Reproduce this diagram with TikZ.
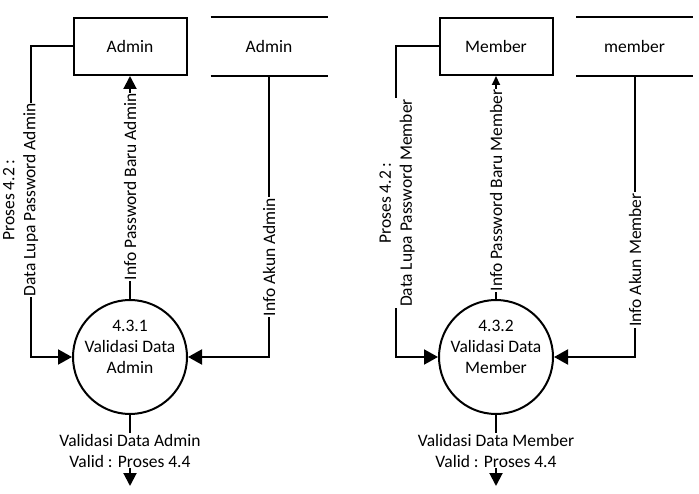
\documentclass[tikz,border=0pt]{standalone}
\usepackage{fontspec}
\setmainfont{Carlito}
\usetikzlibrary{arrows.meta}
\begin{document}
\begin{tikzpicture}[x=1pt,y=-1pt, line width=2pt, font=\fontsize{17.5}{21}\selectfont,
  flow/.style={-{Triangle[length=14pt,width=15pt]}},
  flowsm/.style={-{Triangle[length=13pt,width=13pt]}},
  flowxs/.style={-{Triangle[length=9pt,width=8pt]}},
  ent/.style={draw, minimum width=113pt, minimum height=57pt, inner sep=0pt},
  store/.style={minimum width=115pt, minimum height=57pt, inner sep=0pt},
  proc/.style={draw, circle, minimum size=114pt, inner sep=0pt},
  lbl/.style={fill=white, inner sep=1pt, align=center},
  vlbl/.style={lbl, rotate=90}]
\useasboundingbox (0,0) rectangle (699,494);
% ---------- left: Admin ----------
\node[ent] (e1) at (130,46.5) {Admin};
\node[store] (s1) at (269,46.5) {Admin};
\draw (s1.north west) -- (s1.north east) (s1.south west) -- (s1.south east);
\node[proc] (p1) at (130,357) {};
\node[align=center] (p1t) at (130,347) {4.3.1\\Validasi Data\\Admin};
\coordinate (o1) at (130,486);
\draw[flow] (e1.west) -- ++(-42,0) |- (p1.west);
\draw[flowsm] (p1.north) -- (e1.south);
\draw[flow] (s1.south) |- (p1.east);
\draw[flowsm] (p1.south) -- (o1);
\node[vlbl] (l1) at (20.5,200) {Proses 4.2 :\\Data Lupa Password Admin};
\node[vlbl] (l2) at (130,187) {Info Password Baru Admin};
\node[vlbl] (l3) at (269,257) {Info Akun Admin};
\node[lbl] (l4) at (130,450.5) {Validasi Data Admin\\Valid : Proses 4.4};
% ---------- right: Member ----------
\node[ent] (e2) at (496,46.5) {Member};
\node[store] (s2) at (634.5,46.5) {member};
\draw (s2.north west) -- (s2.north east) (s2.south west) -- (s2.south east);
\node[proc] (p2) at (496,357) {};
\node[align=center] (p2t) at (496,347) {4.3.2\\Validasi Data\\Member};
\coordinate (o2) at (496,486);
\draw[flow] (e2.west) -- ++(-43,0) |- (p2.west);
\draw[flowxs] (p2.north) -- (e2.south);
\draw[flow] (s2.south) |- (p2.east);
\draw[flowsm] (p2.south) -- (o2);
\node[vlbl] (l5) at (397,203) {Proses 4.2 :\\Data Lupa Password Member};
\node[vlbl] (l6) at (496,190.5) {Info Password Baru Member};
\node[vlbl] (l7) at (635,260) {Info Akun Member};
\node[lbl] (l8) at (496,450.5) {Validasi Data Member\\Valid : Proses 4.4};
\end{tikzpicture}
\end{document}
